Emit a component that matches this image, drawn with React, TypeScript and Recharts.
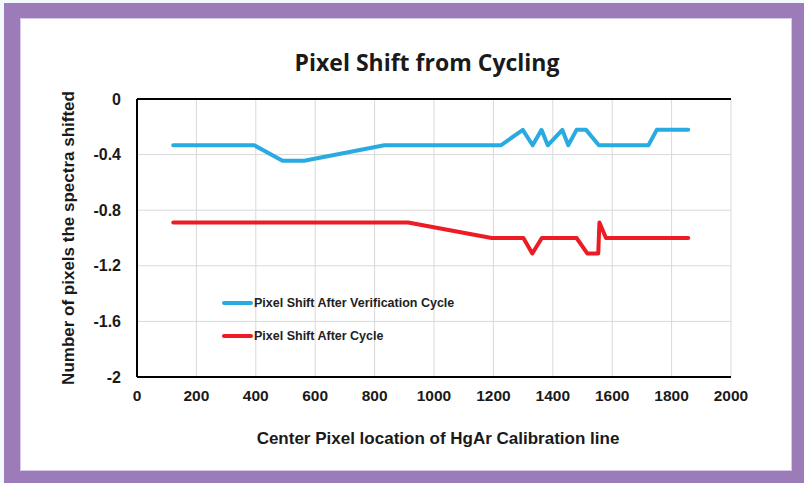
import React from "react";
import {
  LineChart,
  Line,
  XAxis,
  YAxis,
  CartesianGrid,
  Legend,
  ReferenceLine,
} from "recharts";

const blueX = [122, 395, 490, 563, 833, 1225, 1299, 1332, 1362, 1383, 1432, 1452, 1480, 1512, 1555, 1722, 1750, 1856];
const blueY = [-0.333, -0.333, -0.444, -0.444, -0.333, -0.333, -0.222, -0.333, -0.222, -0.333, -0.222, -0.333, -0.222, -0.222, -0.333, -0.333, -0.222, -0.222];

const redX = [122, 913, 1194, 1301, 1331, 1363, 1480, 1516, 1553, 1557, 1579, 1856];
const redY = [-0.889, -0.889, -1.0, -1.0, -1.111, -1.0, -1.0, -1.111, -1.111, -0.889, -1.0, -1.0];

const xTicks = [0, 200, 400, 600, 800, 1000, 1200, 1400, 1600, 1800, 2000];
const yTicks = [0, -0.4, -0.8, -1.2, -1.6, -2];

const seriesNames = ["Pixel Shift After Verification Cycle", "Pixel Shift After Cycle"];
const seriesColors = ["#29abe2", "#ed1c24"];

const blueData = blueX.map((x, i) => ({ x, y: blueY[i] }));
const redData = redX.map((x, i) => ({ x, y: redY[i] }));

const FONT = "'Liberation Sans', Arial, sans-serif";

const LegendContent = () => (
  <div style={{ fontFamily: FONT, fontWeight: "bold", fontSize: 12.5, color: "#222" }}>
    {seriesNames.map((name, i) => (
      <div
        key={name}
        style={{ display: "flex", alignItems: "center", height: 16, marginTop: i === 0 ? 0 : 17, whiteSpace: "nowrap" }}
      >
        <span
          style={{
            display: "inline-block",
            width: 31,
            height: 4,
            borderRadius: 2,
            background: seriesColors[i],
            marginRight: 1,
          }}
        />
        <span>{name}</span>
      </div>
    ))}
  </div>
);

export default function App() {
  return (
    <div
      style={{
        position: "absolute",
        left: 0,
        top: 0,
        width: 804,
        height: 483,
        background: "#f3f8fc",
        overflow: "hidden",
      }}
    >
      <div
        style={{
          position: "absolute",
          left: 4,
          top: 3,
          width: 800,
          height: 480,
          background: "#9b7bb8",
        }}
      />
      <div
        style={{
          position: "absolute",
          left: 20,
          top: 18,
          width: 772,
          height: 453,
          background: "#ffffff",
          boxSizing: "border-box",
          border: "1px solid #d6c8e6",
        }}
      />
      <div
        style={{
          position: "absolute",
          left: 21,
          top: 46,
          width: 771,
          textAlign: "center",
          fontFamily: "'Open Sans', sans-serif",
          fontWeight: "bold",
          fontSize: 23,
          color: "#1a1a1a",
          paddingLeft: 41,
          boxSizing: "border-box",
        }}
      >
        Pixel Shift from Cycling
      </div>
      <div style={{ position: "absolute", left: 21, top: 19 }}>
        <LineChart
          width={771}
          height={452}
          margin={{ top: 80, right: 61, bottom: 0, left: 20 }}
        >
          <CartesianGrid stroke="#d9d9d9" strokeWidth={1} />
          <XAxis
            type="number"
            dataKey="x"
            domain={[0, 2000]}
            ticks={xTicks}
            allowDataOverflow
            height={94}
            axisLine={{ stroke: "#000", strokeWidth: 2 }}
            tickLine={false}
            tickMargin={7}
            tick={{ fontFamily: FONT, fontWeight: "bold", fontSize: 15.5, fill: "#1a1a1a" }}
            label={{
              value: "Center Pixel location of HgAr Calibration line",
              position: "insideBottom",
              offset: 27,
              dx: 4,
              style: { fontFamily: FONT, fontWeight: "bold", fontSize: 17, fill: "#1a1a1a" },
            }}
          />
          <YAxis
            type="number"
            domain={[-2, 0]}
            ticks={yTicks}
            allowDataOverflow
            width={96}
            axisLine={{ stroke: "#000", strokeWidth: 2 }}
            tickLine={false}
            tickMargin={10}
            tickFormatter={(v: number) => String(v)}
            tick={{ fontFamily: FONT, fontWeight: "bold", fontSize: 16, fill: "#1a1a1a" }}
            label={{
              value: "Number of pixels the spectra shifted",
              angle: -90,
              position: "insideLeft",
              offset: 27,
              style: { textAnchor: "middle", fontFamily: FONT, fontWeight: "bold", fontSize: 17, fill: "#1a1a1a" },
            }}
          />
          <ReferenceLine y={0} stroke="#000" strokeWidth={2} />
          <Legend
            layout="vertical"
            align="center"
            verticalAlign="middle"
            content={<LegendContent />}
            wrapperStyle={{ position: "absolute", left: 201, top: 276, width: 320 }}
          />
          <Line
            data={blueData}
            dataKey="y"
            name={seriesNames[0]}
            type="linear"
            stroke={seriesColors[0]}
            strokeWidth={4}
            dot={false}
            activeDot={false}
            strokeLinecap="round"
            strokeLinejoin="round"
            isAnimationActive={false}
          />
          <Line
            data={redData}
            dataKey="y"
            name={seriesNames[1]}
            type="linear"
            stroke={seriesColors[1]}
            strokeWidth={4}
            dot={false}
            activeDot={false}
            strokeLinecap="round"
            strokeLinejoin="round"
            isAnimationActive={false}
          />
        </LineChart>
      </div>
    </div>
  );
}
